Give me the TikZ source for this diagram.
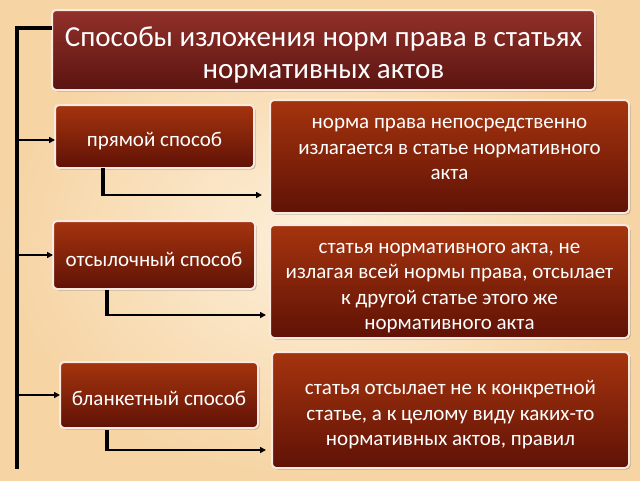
\documentclass[tikz,border=0pt]{standalone}
\usepackage{fontspec}
\setmainfont{Carlito}
\usetikzlibrary{arrows.meta,shadows}
\definecolor{bgin}{HTML}{FDF0DA}
\definecolor{bgout}{HTML}{F6D4A4}
\definecolor{ttop}{HTML}{93302A}
\definecolor{tbot}{HTML}{5A1410}
\definecolor{btop}{HTML}{A5340E}
\definecolor{bbot}{HTML}{601206}
\definecolor{rim}{HTML}{FBE9E0}
\tikzset{
  box/.style={rounded corners=4pt, draw=rim, line width=2pt, shade, top color=btop, bottom color=bbot,
     drop shadow={shadow xshift=1.5pt, shadow yshift=-1.5pt, opacity=0.35, fill=black!70}},
  titlebox/.style={box, top color=ttop, bottom color=tbot},
  txt/.style={text=white, align=center, font=\fontsize{21}{25.5}\selectfont},
  trunk/.style={line width=4pt, black},
  stub/.style={line width=4pt, black},
  arr/.style={line width=2pt, black, -{Triangle[length=6pt,width=6pt]}},
}
\begin{document}
\begin{tikzpicture}[x=1pt,y=-1pt]
\useasboundingbox (0,0) rectangle (640,480);
\shade[inner color=bgin, outer color=bgout] (0,0) rectangle (640,480);
% boxes
\draw[titlebox] (52,10) rectangle (595,90);
\node[txt, font=\fontsize{29}{32}\selectfont] (title) at (323.5,55) {Способы изложения норм права в статьях\\нормативных актов};
\draw[box] (55,105) rectangle (254,168);
\node[txt] (a) at (154.5,141) {прямой способ};
\draw[box] (53,221) rectangle (255,289);
\node[txt] (b) at (154,259) {отсылочный способ};
\draw[box] (60,362) rectangle (258,428);
\node[txt] (c) at (159,398) {бланкетный способ};
\draw[box] (270,100) rectangle (629,213);
\node[txt] (r1) at (449.5,149) {норма права непосредственно\\излагается в статье нормативного\\акта};
\draw[box] (270,225) rectangle (629,338);
\node[txt] (r2) at (449.5,288) {статья нормативного акта, не\\излагая всей нормы права, отсылает\\к другой статье этого же\\нормативного акта};
\draw[box] (272,352) rectangle (629,468);
\node[txt] (r3) at (450.5,415) {статья отсылает не к конкретной\\статье, а к целому виду каких-то\\нормативных актов, правил};
% coordinates
\coordinate (tt) at (17,28);
\coordinate (tb) at (17,469);
\coordinate (tl) at (52,28);
\coordinate (ta) at (17,140);
\coordinate (tbb) at (17,255);
\coordinate (tc) at (17,395);
\coordinate (ae) at (55,140);
\coordinate (be) at (53,255);
\coordinate (ce) at (60,395);
\coordinate (s1a) at (103,168);
\coordinate (s1b) at (103,195);
\coordinate (s1c) at (262,195);
\coordinate (s2a) at (107,290);
\coordinate (s2b) at (107,315);
\coordinate (s2c) at (266,315);
\coordinate (s3a) at (107,430);
\coordinate (s3b) at (107,450);
\coordinate (s3c) at (266,450);
% connectors
\draw[trunk] (tl) -- (tt) -- (tb);
\draw[arr] (ta) -- (ae);
\draw[arr] (tbb) -- (be);
\draw[arr] (tc) -- (ce);
\draw[stub] (s1a) -- (s1b);
\draw[arr] ([xshift=-2pt]s1b) -- (s1c);
\draw[stub] (s2a) -- (s2b);
\draw[arr] ([xshift=-2pt]s2b) -- (s2c);
\draw[stub] (s3a) -- (s3b);
\draw[arr] ([xshift=-2pt]s3b) -- (s3c);
\end{tikzpicture}
\end{document}
